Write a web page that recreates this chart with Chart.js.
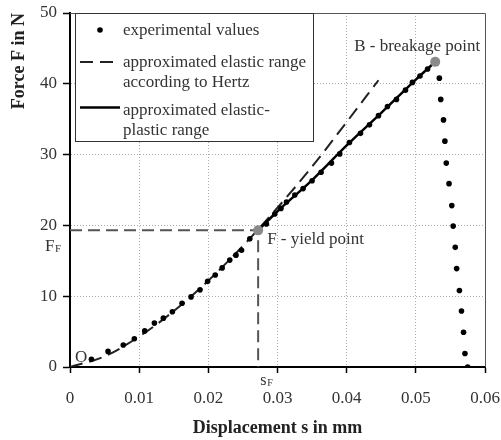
<!DOCTYPE html>
<html><head><meta charset="utf-8">
<script src="https://cdn.jsdelivr.net/npm/chart.js@4.4.1/dist/chart.umd.min.js"></script>
<style>html,body{margin:0;padding:0;background:#fff}</style>
</head><body>
<canvas id="c" width="501" height="440" style="width:501px;height:440px;display:block"></canvas>
<script>
// ---- data ----
const expX = [0.0031, 0.0055, 0.0077, 0.0093, 0.0108, 0.0122, 0.0135, 0.0148, 0.0162, 0.0175, 0.0188, 0.0199, 0.0210, 0.0220, 0.0231, 0.0240, 0.0248, 0.0260, 0.0284, 0.0296, 0.0305, 0.0313, 0.0325, 0.0337, 0.0350, 0.0363, 0.0378, 0.0390, 0.0404, 0.0420, 0.0433, 0.0446, 0.0459, 0.0472, 0.0485, 0.0495, 0.0506, 0.0517, 0.0534, 0.0536, 0.0540, 0.0542, 0.0544, 0.0548, 0.0552, 0.0554, 0.0557, 0.0559, 0.0563, 0.0566, 0.0569, 0.0571, 0.0575];
const expY = [1.1, 2.2, 3.1, 4.0, 5.1, 6.2, 6.9, 7.8, 9.0, 9.9, 10.9, 12.1, 13.0, 14.0, 15.1, 15.8, 16.5, 18.1, 20.2, 21.6, 22.4, 23.3, 24.3, 25.2, 26.3, 27.5, 28.8, 30.1, 31.7, 33.0, 34.2, 35.5, 36.8, 37.8, 39.1, 40.2, 41.1, 42.1, 40.8, 37.8, 34.9, 31.9, 28.8, 25.9, 22.8, 19.9, 16.9, 13.9, 10.8, 7.9, 4.9, 1.9, 0.0];
const hertzX = [0, 0.005, 0.010, 0.015, 0.020, 0.025, 0.030, 0.035, 0.040, 0.0446];
const hertzY = [0, 1.5, 4.3, 7.9, 12.2, 17.1, 22.5, 28.3, 34.6, 40.5];
const plastX = [0.0272, 0.030, 0.035, 0.040, 0.045, 0.050, 0.0528];
const plastY = [19.3, 22.0, 26.4, 31.3, 35.9, 40.6, 43.1];
const yieldPoint = [0.0272, 19.3];
const breakPoint = [0.0528, 43.1];
const xTicks = [0, 0.01, 0.02, 0.03, 0.04, 0.05, 0.06];
const yTicks = [0, 10, 20, 30, 40, 50];
const legendLabels = [["experimental values"], ["approximated elastic range", "according to Hertz"], ["approximated elastic-", "plastic range"]];
const xTitle = "Displacement s in mm";
const yTitle = "Force F in N";

const SERIF = '"Liberation Serif", "Times New Roman", serif';
const pts = (xs, ys) => xs.map((v, i) => ({x: v, y: ys[i]}));

const overlay = {
  id: 'overlay',
  beforeDatasetsDraw(chart) {
    const {ctx, chartArea: a} = chart;
    ctx.save();
    ctx.strokeStyle = '#555';
    ctx.lineWidth = 1;
    ctx.beginPath();
    ctx.moveTo(a.left, a.top + 0.5); ctx.lineTo(a.right + 0.5, a.top + 0.5); ctx.lineTo(a.right + 0.5, a.bottom);
    ctx.stroke();
    ctx.restore();
  },
  afterDatasetsDraw(chart) {
    const {ctx, scales: {x, y}} = chart;
    ctx.save();
    // legend box
    const L = 75.5, T = 13.5, W = 238, H = 128;
    ctx.fillStyle = '#fff';
    ctx.fillRect(L, T, W, H);
    ctx.strokeStyle = '#333'; ctx.lineWidth = 1;
    ctx.strokeRect(L, T, W, H);
    ctx.fillStyle = '#000';
    ctx.beginPath(); ctx.arc(100, 30, 2.8, 0, Math.PI * 2); ctx.fill();
    ctx.strokeStyle = '#222'; ctx.lineWidth = 2;
    ctx.setLineDash([13, 7]);
    ctx.beginPath(); ctx.moveTo(80, 62); ctx.lineTo(114, 62); ctx.stroke();
    ctx.setLineDash([]);
    ctx.lineWidth = 2.5; ctx.strokeStyle = '#000';
    ctx.beginPath(); ctx.moveTo(80, 107.5); ctx.lineTo(120, 107.5); ctx.stroke();
    ctx.font = '17px ' + SERIF;
    ctx.fillStyle = '#333';
    ctx.textBaseline = 'middle';
    ctx.textAlign = 'left';
    const rows = [[30.5], [63, 83], [111, 130.5]];
    legendLabels.forEach((lines, i) => lines.forEach((t, j) => ctx.fillText(t, 123, rows[i][j])));

    // annotations
    const fx = x.getPixelForValue(yieldPoint[0]), fy = y.getPixelForValue(yieldPoint[1]);
    const bx = x.getPixelForValue(breakPoint[0]), by = y.getPixelForValue(breakPoint[1]);
    const ox = x.getPixelForValue(0), oy = y.getPixelForValue(0);
    ctx.fillText('F - yield point', fx + 9, fy + 9);
    ctx.fillText('B - breakage point', bx - 81, by - 15);
    ctx.fillText('O', ox + 5, oy - 9);
    // F_F on y axis
    ctx.textBaseline = 'alphabetic';
    ctx.font = '17px ' + SERIF;
    ctx.fillText('F', 45, fy + 21);
    ctx.font = '11px ' + SERIF;
    ctx.fillText('F', 55, fy + 22);
    // s_F on x axis
    ctx.font = '16px ' + SERIF;
    ctx.fillText('s', fx + 2, oy + 18);
    ctx.font = '10px ' + SERIF;
    ctx.fillText('F', fx + 9, oy + 19);
    ctx.restore();
  }
};

const gridColor = (max) => (c) => (c.tick && (c.tick.value === 0 || Math.abs(c.tick.value - max) < 1e-9)) ? 'rgba(0,0,0,0)' : '#aaa';

new Chart(document.getElementById('c'), {
  type: 'scatter',
  data: {
    datasets: [
      {label: 'yield lines', data: [{x: 0, y: yieldPoint[1]}, {x: yieldPoint[0], y: yieldPoint[1]}, {x: yieldPoint[0], y: 0}],
        showLine: true, borderColor: '#555', borderWidth: 2, borderDash: [12, 6], pointRadius: 0, order: 6},
      {label: 'approximated elastic range according to Hertz', data: pts(hertzX, hertzY), showLine: true,
        borderColor: '#222', borderWidth: 2, borderDash: [13, 7], pointRadius: 0, cubicInterpolationMode: 'monotone', order: 5},
      {label: 'approximated elastic-plastic range', data: pts(plastX, plastY), showLine: true,
        borderColor: '#000', borderWidth: 2.5, pointRadius: 0, cubicInterpolationMode: 'monotone', order: 4},
      {label: 'experimental values', data: pts(expX, expY), showLine: false,
        pointRadius: 2.8, pointBackgroundColor: '#000', pointBorderWidth: 0, order: 3},
      {label: 'F and B', data: [{x: yieldPoint[0], y: yieldPoint[1]}, {x: breakPoint[0], y: breakPoint[1]}], showLine: false,
        pointRadius: 5, pointBackgroundColor: '#8a8a8a', pointBorderWidth: 0, order: 1}
    ]
  },
  options: {
    responsive: false,
    animation: false,
    devicePixelRatio: 1,
    layout: {padding: {top: 13, right: 16, left: 0, bottom: 0}},
    plugins: {legend: {display: false}, tooltip: {enabled: false}},
    scales: {
      x: {
        type: 'linear', min: 0, max: 0.06,
        afterBuildTicks: s => { s.ticks = xTicks.map(v => ({value: v})); },
        afterFit: s => { s.height = 73; s.paddingLeft = 0; s.paddingRight = 0; },
        ticks: {color: '#333', font: {family: SERIF, size: 17}, padding: 15, maxRotation: 0,
          callback: v => String(Number(v.toFixed(2)))},
        grid: {color: gridColor(0.06), lineWidth: 1, tickLength: 6, tickColor: '#000', tickWidth: 1.5},
        border: {color: '#000', width: 2, dash: [1, 2]},
        title: {display: true, text: xTitle, color: '#222', font: {family: SERIF, size: 18, weight: 'bold'}, padding: {top: 0, bottom: 1}}
      },
      y: {
        type: 'linear', min: 0, max: 50,
        afterBuildTicks: s => { s.ticks = yTicks.map(v => ({value: v})); },
        afterFit: s => { s.width = 70; s.paddingTop = 0; s.paddingBottom = 0; },
        ticks: {color: '#333', font: {family: SERIF, size: 17}, padding: 6},
        grid: {color: gridColor(50), lineWidth: 1, tickLength: 7, tickColor: '#000', tickWidth: 1.5},
        border: {color: '#000', width: 2, dash: [1, 2]},
        title: {display: true, text: yTitle, align: 'end', color: '#222', font: {family: SERIF, size: 18, weight: 'bold'}, padding: {top: 9, bottom: 0}}
      }
    }
  },
  plugins: [overlay]
});
</script>
</body></html>
